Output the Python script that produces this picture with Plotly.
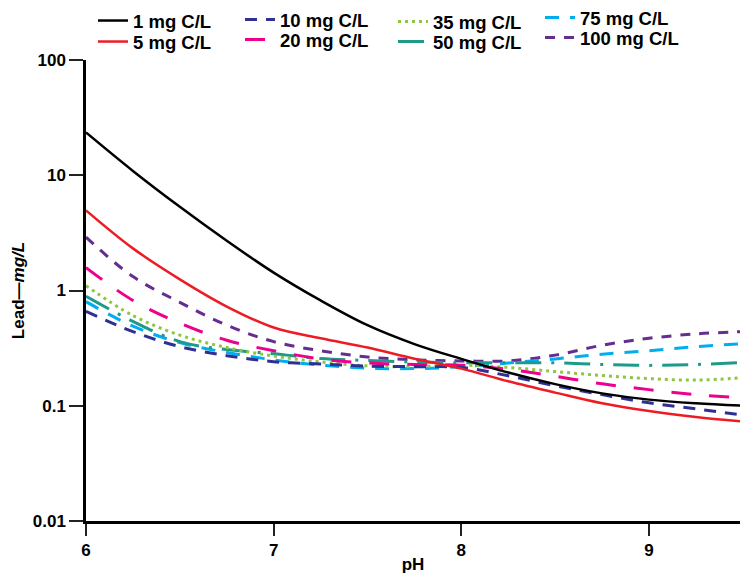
import plotly.graph_objects as go

ph = [6.0, 6.25, 6.5, 6.75, 7.0, 7.25, 7.5, 7.75, 8.0, 8.25, 8.5, 8.75, 9.0, 9.25, 9.5]

lead_1 = [23.5, 10.9, 5.32, 2.70, 1.43, 0.82, 0.50, 0.343, 0.255, 0.194, 0.154, 0.128, 0.113, 0.105, 0.100]
lead_5 = [4.96, 2.32, 1.25, 0.726, 0.477, 0.385, 0.32, 0.256, 0.21, 0.163, 0.130, 0.105, 0.090, 0.080, 0.073]
lead_10 = [0.66, 0.44, 0.326, 0.272, 0.241, 0.230, 0.221, 0.218, 0.215, 0.182, 0.149, 0.125, 0.106, 0.094, 0.083]
lead_20 = [1.58, 0.82, 0.52, 0.37, 0.30, 0.255, 0.235, 0.228, 0.225, 0.207, 0.180, 0.155, 0.138, 0.125, 0.117]
lead_35 = [1.10, 0.606, 0.41, 0.32, 0.27, 0.24, 0.222, 0.218, 0.225, 0.215, 0.198, 0.183, 0.172, 0.167, 0.175]
lead_50 = [0.89, 0.54, 0.36, 0.307, 0.283, 0.257, 0.247, 0.240, 0.236, 0.236, 0.236, 0.228, 0.224, 0.228, 0.237]
lead_75 = [0.80, 0.49, 0.353, 0.29, 0.25, 0.225, 0.212, 0.210, 0.218, 0.235, 0.255, 0.280, 0.300, 0.325, 0.346]
lead_100 = [2.9, 1.32, 0.79, 0.50, 0.36, 0.30, 0.265, 0.250, 0.245, 0.245, 0.275, 0.335, 0.385, 0.420, 0.440]

names = ["1 mg C/L", "5 mg C/L", "10 mg C/L", "20 mg C/L",
         "35 mg C/L", "50 mg C/L", "75 mg C/L", "100 mg C/L"]
series = [lead_1, lead_5, lead_10, lead_20, lead_35, lead_50, lead_75, lead_100]
colors = ["#000000", "#ED1C24", "#2E3192", "#EC008C",
          "#8DC63F", "#1E9A8A", "#00AEEF", "#662D91"]
dashes = ["solid", "solid", "12px,9px", "20px,18px",
          "3px,4px", "26px,10px,3px,10px", "14px,11px", "10px,9px"]
widths = [2.5, 2.5, 3, 3, 3, 3, 3, 3]

# page-pixel geometry of the reference
L, R, T, B = 86, 740, 60, 521
W, H = 740, 574
pw, phh = R - L, B - T

# legend slot per series: (left px of legend box, centre y of text row)
leg_x = [93, 93, 240, 240, 393, 393, 540, 540]
leg_y = [21, 42, 20, 40, 22, 42, 18, 38]
LEG_FS = 18.5

font = dict(family="Liberation Sans, Arial, sans-serif", size=LEG_FS,
            color="black", weight="bold")

fig = go.Figure()
legend_layout = {}
for i in [7, 6, 5, 4, 3, 2, 1, 0]:
    lid = "legend" if i == 0 else f"legend{i + 1}"
    fig.add_trace(go.Scatter(
        x=ph, y=series[i], name=names[i], mode="lines",
        line=dict(color=colors[i], dash=dashes[i], width=widths[i],
                  shape="spline", smoothing=1.0),
        legend=lid,
    ))
    top_px = leg_y[i] - 19
    legend_layout[lid] = dict(
        x=(leg_x[i] - L) / pw, xanchor="left",
        y=(B - top_px) / phh, yanchor="top",
        orientation="v", font=font, bgcolor="rgba(0,0,0,0)",
        itemwidth=30, tracegroupgap=0,
    )

fig.update_layout(
    width=W, height=H,
    margin=dict(l=L, r=W - R, t=T, b=H - B, autoexpand=False),
    plot_bgcolor="white", paper_bgcolor="white",
    showlegend=True,
    font=font,
    **legend_layout,
)

tick_font = dict(family="Liberation Sans, Arial, sans-serif", size=17,
                 color="black", weight="bold")

fig.update_xaxes(
    range=[6, 9.485], tickvals=[6, 7, 8, 9], ticktext=["6", "7", "8", "9"],
    showline=True, linewidth=2.5, linecolor="black", mirror=False,
    ticks="outside", ticklen=12, tickwidth=1.5, tickcolor="#222",
    showgrid=False, zeroline=False, tickfont=tick_font,
    title=dict(text="pH", standoff=0, font=tick_font),
    automargin=False,
)
fig.update_yaxes(
    type="log", range=[-2, 2],
    tickvals=[0.01, 0.1, 1, 10, 100], ticktext=["0.01", "0.1", "1", "10", "100"],
    showline=True, linewidth=2.5, linecolor="black",
    ticks="outside", ticklen=14, tickwidth=2, tickcolor="#222",
    showgrid=False, zeroline=False, tickfont=tick_font,
    title=dict(text="Lead—<i>mg/L</i>", standoff=4, font=tick_font),
    automargin=False,
)

fig.write_html(
    "out.html",
    config={"displayModeBar": False},
    post_script="document.body.style.margin='0';document.body.style.overflow='hidden';",
)
